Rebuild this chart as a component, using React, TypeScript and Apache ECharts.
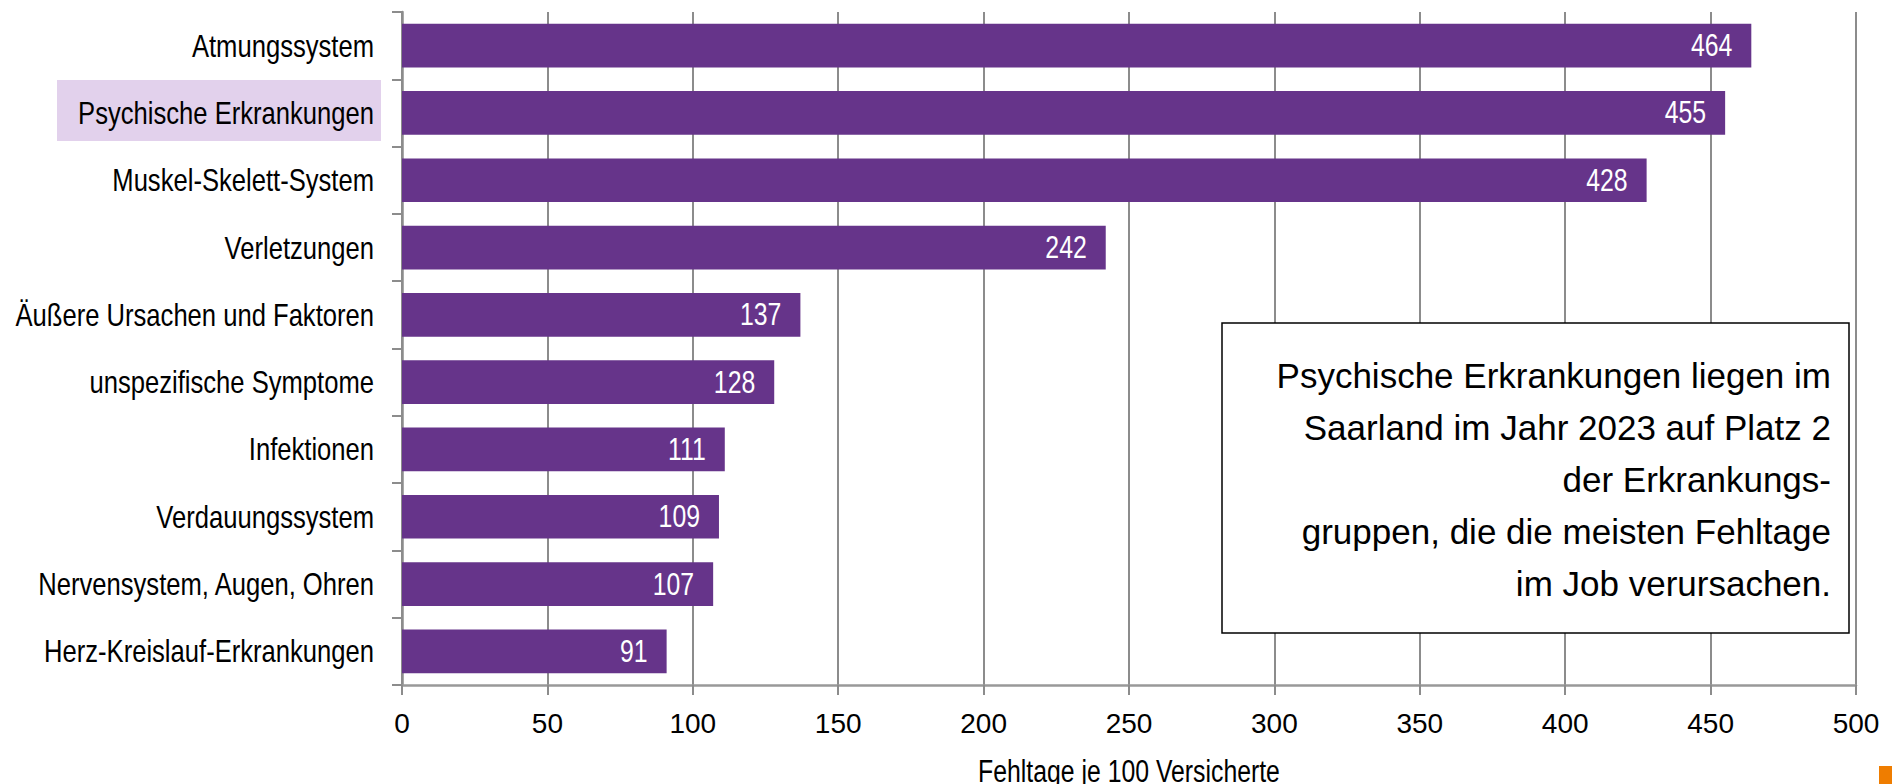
import React, { useEffect, useRef } from "react";
import * as echarts from "echarts";

const categories = [
  "Atmungssystem",
  "Psychische Erkrankungen",
  "Muskel-Skelett-System",
  "Verletzungen",
  "Äußere Ursachen und Faktoren",
  "unspezifische Symptome",
  "Infektionen",
  "Verdauungssystem",
  "Nervensystem, Augen, Ohren",
  "Herz-Kreislauf-Erkrankungen",
];
const values = [464, 455, 428, 242, 137, 128, 111, 109, 107, 91];
const highlightCategory = "Psychische Erkrankungen";
const xMin = 0;
const xMax = 500;
const xInterval = 50;
const xAxisTitle = "Fehltage je 100 Versicherte";
const noteLines = [
  "Psychische Erkrankungen liegen im",
  "Saarland im Jahr 2023 auf Platz 2",
  "der Erkrankungs-",
  "gruppen, die die meisten Fehltage",
  "im Job verursachen.",
];

const FONT = "'Liberation Sans', Arial, sans-serif";
const NARROW_SCALE = 0.8;
const GRID_GRAY = "#8c8c8c";
const BAR_COLOR = "#66348a";
const HIGHLIGHT_BG = "#e2d1ec";

export default function App() {
  const ref = useRef<HTMLDivElement>(null);
  useEffect(() => {
    const chart = echarts.init(ref.current!, null, { renderer: "svg" });
    const labelData = categories.map((c, i) => [0, i, values[i]]);

    const renderLabels = (params: any, api: any) => {
      const idx = params.dataIndex;
      const name = categories[idx];
      const val = values[idx];
      const base = api.coord([0, idx]);
      const end = api.coord([val, idx]);
      const children: any[] = [];
      if (name === highlightCategory) {
        children.push({
          type: "rect",
          shape: { x: base[0] - 345, y: base[1] - 33, width: 324, height: 61 },
          style: { fill: HIGHLIGHT_BG },
        });
      }
      children.push({
        type: "text",
        x: base[0] - 28,
        y: base[1],
        scaleX: NARROW_SCALE,
        style: {
          text: name,
          fontFamily: FONT,
          fontSize: 32,
          fill: "#000",
          align: "right",
          verticalAlign: "middle",
        },
      });
      children.push({
        type: "text",
        x: end[0] - 19,
        y: end[1],
        scaleX: NARROW_SCALE,
        style: {
          text: String(val),
          fontFamily: FONT,
          fontSize: 31,
          fill: "#fff",
          align: "right",
          verticalAlign: "middle",
        },
      });
      return { type: "group", children };
    };

    chart.setOption({
      animation: false,
      backgroundColor: "#ffffff",
      grid: { left: 402, right: 36, top: 12, bottom: 99, outerBoundsMode: "none", containLabel: false },
      xAxis: {
        type: "value",
        min: xMin,
        max: xMax,
        interval: xInterval,
        axisLine: { show: true, lineStyle: { color: "#999", width: 2.5 } },
        axisTick: { show: true, length: 10, lineStyle: { color: GRID_GRAY, width: 2 } },
        axisLabel: { fontFamily: FONT, fontSize: 28, color: "#000", margin: 24 },
        splitLine: { show: true, lineStyle: { color: GRID_GRAY, width: 2 } },
      },
      yAxis: {
        type: "category",
        data: categories,
        inverse: true,
        axisLine: { show: true, lineStyle: { color: GRID_GRAY, width: 2.5 } },
        axisTick: { show: true, length: 10, lineStyle: { color: GRID_GRAY, width: 2 } },
        axisLabel: { show: false },
        splitLine: { show: false },
      },
      series: [
        {
          type: "bar",
          data: values,
          barWidth: "65%",
          itemStyle: { color: BAR_COLOR },
          z: 2,
        },
        {
          type: "custom",
          data: labelData,
          encode: { x: 0, y: 1 },
          renderItem: renderLabels,
          clip: false,
          silent: true,
          z: 5,
        },
      ],
      graphic: [
        {
          type: "text",
          x: 1129,
          y: 772,
          scaleX: NARROW_SCALE,
          style: {
            text: xAxisTitle,
            fontFamily: FONT,
            fontSize: 31,
            fill: "#000",
            align: "center",
            verticalAlign: "middle",
          },
        },
        {
          type: "rect",
          shape: { x: 1222, y: 323, width: 627, height: 310 },
          style: { fill: "#fff", stroke: "#000", lineWidth: 1.5 },
          z: 100,
        },
        {
          type: "text",
          x: 1831,
          y: 349,
          z: 101,
          style: {
            text: noteLines.join("\n"),
            fontFamily: FONT,
            fontSize: 35,
            lineHeight: 52,
            fill: "#000",
            align: "right",
            verticalAlign: "top",
          },
        },
        {
          type: "rect",
          shape: { x: 1879, y: 766, width: 13, height: 18 },
          style: { fill: "#ef7d00" },
          z: 100,
        },
      ],
    });
    return () => chart.dispose();
  }, []);
  return (
    <div
      ref={ref}
      style={{ position: "fixed", left: 0, top: 0, width: 1892, height: 784, background: "#fff" }}
    />
  );
}
